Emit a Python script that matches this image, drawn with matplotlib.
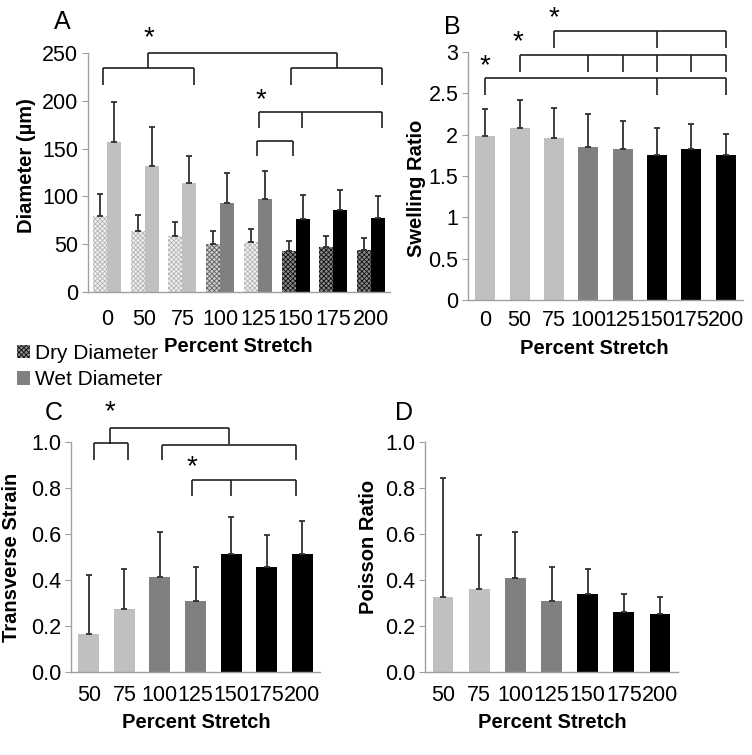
import numpy as np
import matplotlib
matplotlib.use("Agg")
import matplotlib.pyplot as plt
from matplotlib.patches import Patch

plt.rcParams['font.family'] = ['Liberation Sans', 'DejaVu Sans']
plt.rcParams['hatch.linewidth'] = 0.6

W, H = 752, 755

# ---- data ----
stretch_a = ['0', '50', '75', '100', '125', '150', '175', '200']
dry_mean = [80, 63.5, 59, 50, 52.5, 43, 47, 44]
dry_err = [22.5, 17.5, 14.5, 14, 13, 10.5, 11.5, 12.5]
wet_mean = [157, 131.5, 114.5, 93, 97, 76.5, 85.5, 77]
wet_err = [42, 41, 28, 31, 29.5, 25, 21.5, 23]

swell_mean = [1.985, 2.08, 1.96, 1.855, 1.83, 1.755, 1.83, 1.755]
swell_err = [0.33, 0.34, 0.36, 0.395, 0.34, 0.33, 0.295, 0.255]

stretch_cd = ['50', '75', '100', '125', '150', '175', '200']
strain_mean = [0.164, 0.272, 0.412, 0.307, 0.514, 0.457, 0.512]
strain_err = [0.256, 0.176, 0.198, 0.15, 0.158, 0.139, 0.145]
poisson_mean = [0.326, 0.361, 0.41, 0.307, 0.341, 0.259, 0.254]
poisson_err = [0.517, 0.236, 0.2, 0.15, 0.107, 0.08, 0.074]

LIGHT, MID, DARK = '#c0c0c0', '#808080', '#000000'
colors_a = [LIGHT, LIGHT, LIGHT, MID, MID, DARK, DARK, DARK]
colors_cd = [LIGHT, LIGHT, MID, MID, DARK, DARK, DARK]
# dotted fill for dry bars: (face, dots)
dry_style = {'light': ('#f0f0f0', '#b4b4b4'), 'mid': ('#d0d0d0', '#606060'),
             'dark': ('#8a8a8a', '#101010')}
dry_kind = ['light', 'light', 'light', 'mid', 'light', 'dark', 'dark', 'dark']

SPINE = '#a0a0a0'
ERRC = '#303030'
TICKSIZE = 15.5


def add_ax(left, top, right, bottom):
    return fig.add_axes([left / W, 1 - bottom / H, (right - left) / W, (bottom - top) / H])


def style_ax(ax, xpad):
    for s in ['top', 'right']:
        ax.spines[s].set_visible(False)
    for s in ['left', 'bottom']:
        ax.spines[s].set_color(SPINE)
        ax.spines[s].set_linewidth(1.0)
    ax.tick_params(axis='y', length=4, color=SPINE, labelsize=TICKSIZE, pad=3)
    ax.tick_params(axis='x', length=0, labelsize=TICKSIZE, pad=xpad)


def bracket(ax, x0, x1, y, drop, ticks=()):
    kw = dict(color='#202020', lw=1.2, clip_on=False, solid_capstyle='butt')
    ax.plot([x0, x1], [y, y], **kw)
    for x in [x0, x1] + list(ticks):
        ax.plot([x, x], [y, y - drop], **kw)


def star(ax, x, y):
    ax.text(x, y, '*', ha='center', va='center', fontsize=20, clip_on=False)


fig = plt.figure(figsize=(W / 100, H / 100), dpi=100)

# ---- A ----
axA = add_ax(88, 53, 390, 292)
x = np.arange(len(stretch_a))
bw = 0.37
for i in range(len(x)):
    fc, hc = dry_style[dry_kind[i]]
    axA.bar(x[i] - bw / 2, dry_mean[i], bw, color=fc, edgecolor=hc, hatch='xxxxxxx', lw=0)
axA.bar(x + bw / 2, wet_mean, bw, color=colors_a, lw=0)
axA.errorbar(x - bw / 2, dry_mean, yerr=[np.zeros(8), dry_err], fmt='none',
             ecolor=ERRC, elinewidth=1.3, capsize=2.5, capthick=1.3)
axA.errorbar(x + bw / 2, wet_mean, yerr=[np.zeros(8), wet_err], fmt='none',
             ecolor=ERRC, elinewidth=1.3, capsize=2.5, capthick=1.3)
axA.set_xlim(-0.5, 7.5)
axA.set_ylim(0, 250)
axA.set_yticks(np.arange(0, 251, 50))
axA.set_xticks(x)
axA.set_xticklabels(stretch_a)
style_ax(axA, 12)
bracket(axA, -0.10, 2.31, 234, 17)
bracket(axA, 4.88, 7.29, 234, 17)
bracket(axA, 1.10, 6.09, 250, 16)
star(axA, 1.10, 265)
bracket(axA, 4.04, 7.30, 188, 16, ticks=[5.18])
bracket(axA, 3.97, 4.94, 158, 16)
star(axA, 4.08, 201)

leg_handles = [Patch(facecolor='#8a8a8a', edgecolor='#101010', hatch='xxxxxxx', lw=0),
               Patch(facecolor=MID, lw=0)]
fig.legend(leg_handles, ['Dry Diameter', 'Wet Diameter'], loc='upper left',
           bbox_to_anchor=(17 / W, 1 - 344 / H), frameon=False, fontsize=15,
           handlelength=0.6, handleheight=0.6, handletextpad=0.25,
           labelspacing=0.35, borderpad=0, borderaxespad=0)

# ---- B ----
axB = add_ax(468, 52, 743, 300)
xb = np.arange(len(stretch_a))
axB.bar(xb, swell_mean, 0.58, color=colors_a, lw=0)
axB.errorbar(xb, swell_mean, yerr=[np.zeros(8), swell_err], fmt='none',
             ecolor=ERRC, elinewidth=1.3, capsize=2.5, capthick=1.3)
axB.set_xlim(-0.5, 7.5)
axB.set_ylim(0, 3)
axB.set_yticks(np.arange(0, 3.01, 0.5))
axB.set_yticklabels(['0', '0.5', '1', '1.5', '2', '2.5', '3'])
axB.set_xticks(xb)
axB.set_xticklabels(stretch_a)
style_ax(axB, 7)
bracket(axB, 0, 7, 2.685, 0.2, ticks=[5])
bracket(axB, 1, 7, 2.96, 0.2, ticks=[3, 4, 5, 6])
bracket(axB, 2, 7, 3.25, 0.2, ticks=[5])
star(axB, 0, 2.83)
star(axB, 0.95, 3.12)
star(axB, 2, 3.41)

# ---- C ----
axC = add_ax(71, 442, 320, 672)
xc = np.arange(len(stretch_cd))
axC.bar(xc, strain_mean, 0.59, color=colors_cd, lw=0)
axC.errorbar(xc, strain_mean, yerr=[np.zeros(7), strain_err], fmt='none',
             ecolor=ERRC, elinewidth=1.3, capsize=2.5, capthick=1.3)
axC.set_xlim(-0.5, 6.5)
axC.set_ylim(0, 1)
axC.set_yticks(np.arange(0, 1.01, 0.2))
axC.set_yticklabels(['%.1f' % v for v in np.arange(0, 1.01, 0.2)])
axC.set_xticks(xc)
axC.set_xticklabels(stretch_cd)
style_ax(axC, 9.5)
bracket(axC, 0.15, 1.10, 0.994, 0.071)
bracket(axC, 2.05, 5.83, 0.987, 0.067)
bracket(axC, 0.61, 3.93, 1.059, 0.068)
star(axC, 0.58, 1.13)
bracket(axC, 2.91, 5.83, 0.833, 0.069, ticks=[4.0])
star(axC, 2.9, 0.89)

# ---- D ----
axD = add_ax(425, 442, 678, 672)
axD.bar(xc, poisson_mean, 0.57, color=colors_cd, lw=0)
axD.errorbar(xc, poisson_mean, yerr=[np.zeros(7), poisson_err], fmt='none',
             ecolor=ERRC, elinewidth=1.3, capsize=2.5, capthick=1.3)
axD.set_xlim(-0.5, 6.5)
axD.set_ylim(0, 1)
axD.set_yticks(np.arange(0, 1.01, 0.2))
axD.set_yticklabels(['%.1f' % v for v in np.arange(0, 1.01, 0.2)])
axD.set_xticks(xc)
axD.set_xticklabels(stretch_cd)
style_ax(axD, 9.5)

# ---- labels ----
lab = dict(fontsize=14.5, fontweight='bold', ha='center', va='center')
fig.text(27 / W, 1 - 166 / H, 'Diameter (µm)', rotation=90, **lab)
fig.text(417 / W, 1 - 188 / H, 'Swelling Ratio', rotation=90, **lab)
fig.text(12 / W, 1 - 557 / H, 'Transverse Strain', rotation=90, **lab)
fig.text(369 / W, 1 - 547 / H, 'Poisson Ratio', rotation=90, **lab)
fig.text(238 / W, 1 - 347 / H, 'Percent Stretch', **lab)
fig.text(594 / W, 1 - 348 / H, 'Percent Stretch', **lab)
fig.text(196 / W, 1 - 723 / H, 'Percent Stretch', **lab)
fig.text(552 / W, 1 - 723 / H, 'Percent Stretch', **lab)

pan = dict(fontsize=18, ha='center', va='center')
fig.text(62 / W, 1 - 22 / H, 'A', **pan)
fig.text(452 / W, 1 - 27 / H, 'B', **pan)
fig.text(54 / W, 1 - 413 / H, 'C', **pan)
fig.text(404 / W, 1 - 413 / H, 'D', **pan)

fig.savefig('out.png', dpi=100)
